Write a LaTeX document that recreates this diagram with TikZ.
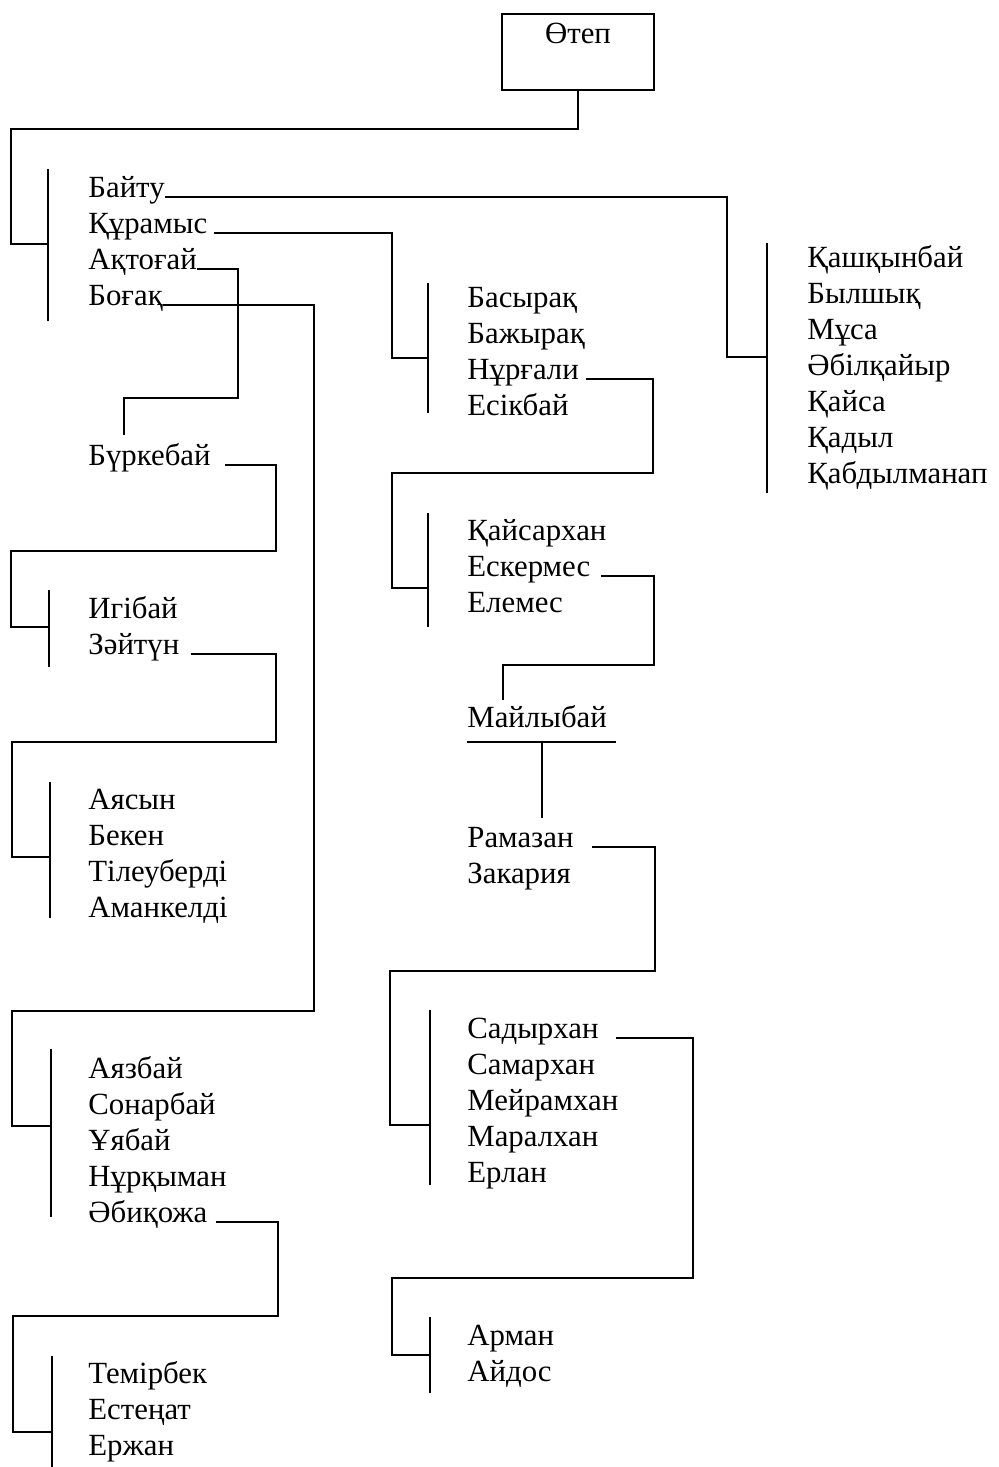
\documentclass[tikz,border=0pt]{standalone}
\usepackage{fontspec}
\setmainfont{Liberation Serif}
\newcommand\nmfont{\fontsize{15.4}{18}\selectfont}
\begin{document}
\begin{tikzpicture}[x=0.5pt,y=-0.5pt,
  nm/.style={anchor=base west, inner sep=0pt, font=\nmfont},
  ln/.style={line width=0.9pt, line join=miter},
  topbox/.style={draw, line width=0.9pt, inner sep=0pt, minimum width=76pt,
     text height=14.5pt, text depth=23.5pt, anchor=base, font=\nmfont}]
\useasboundingbox (0,0) rectangle (998,1467);

% root
\node[topbox] (otep) at (578,43) {Өтеп};

% left column
\node[nm] (bayty) at (88,197) {Байту};
\node[nm] (qur)   at (88,233) {Құрамыс};
\node[nm] (aqt)   at (88,269) {Ақтоғай};
\node[nm] (bog)   at (88,305) {Боғақ};
\node[nm] (burk)  at (88,465) {Бүркебай};
\node[nm] (igi)   at (88,618) {Игібай};
\node[nm] (zait)  at (88,654) {Зәйтүн};
\node[nm] (ayas)  at (88,809) {Аясын};
\node[nm] (bek)   at (88,845) {Бекен};
\node[nm] (til)   at (88,881) {Тілеуберді};
\node[nm] (aman)  at (88,917) {Аманкелді};
\node[nm] (ayaz)  at (88,1078) {Аязбай};
\node[nm] (son)   at (88,1114) {Сонарбай};
\node[nm] (uya)   at (88,1150) {Ұябай};
\node[nm] (nurq)  at (88,1186) {Нұрқыман};
\node[nm] (abiq)  at (88,1222) {Әбиқожа};
\node[nm] (temir) at (88,1383) {Темірбек};
\node[nm] (esten) at (88,1419) {Естеңат};
\node[nm] (erzh)  at (88,1455) {Ержан};

% middle column
\node[nm] (bas)   at (467,307) {Басырақ};
\node[nm] (bazh)  at (467,343) {Бажырақ};
\node[nm] (nurg)  at (467,379) {Нұрғали};
\node[nm] (esik)  at (467,415) {Есікбай};
\node[nm] (qays)  at (467,540) {Қайсархан};
\node[nm] (esk)   at (467,576) {Ескермес};
\node[nm] (elem)  at (467,612) {Елемес};
\node[nm] (mayl)  at (467,727) {Майлыбай};
\node[nm] (ram)   at (467,847) {Рамазан};
\node[nm] (zak)   at (467,883) {Закария};
\node[nm] (sad)   at (467,1038) {Садырхан};
\node[nm] (sam)   at (467,1074) {Самархан};
\node[nm] (meyr)  at (467,1110) {Мейрамхан};
\node[nm] (maral) at (467,1146) {Маралхан};
\node[nm] (erlan) at (467,1182) {Ерлан};
\node[nm] (arman) at (467,1345) {Арман};
\node[nm] (aydos) at (467,1381) {Айдос};

% right column
\node[nm] (qash)  at (807,267) {Қашқынбай};
\node[nm] (byl)   at (807,303) {Былшық};
\node[nm] (musa)  at (807,339) {Мұса};
\node[nm] (abil)  at (807,375) {Әбілқайыр};
\node[nm] (qaysa) at (807,411) {Қайса};
\node[nm] (qadyl) at (807,447) {Қадыл};
\node[nm] (qabd)  at (807,483) {Қабдылманап};

% bracket coordinates
\coordinate (bAt) at (48,169);   \coordinate (bAb) at (48,321);   \coordinate (bAj) at (48,244);
\coordinate (bRt) at (767,243);  \coordinate (bRb) at (767,493);  \coordinate (bRj) at (767,357);
\coordinate (bM1t) at (428,283); \coordinate (bM1b) at (428,413); \coordinate (bM1j) at (428,358);
\coordinate (bL2t) at (49,590);  \coordinate (bL2b) at (49,667);  \coordinate (bL2j) at (49,627);
\coordinate (bL3t) at (50,782);  \coordinate (bL3b) at (50,918);  \coordinate (bL3j) at (50,857);
\coordinate (bL5t) at (51,1049); \coordinate (bL5b) at (51,1217); \coordinate (bL5j) at (51,1126);
\coordinate (bL6t) at (52,1356); \coordinate (bL6b) at (52,1467); \coordinate (bL6j) at (52,1432);
\coordinate (bM2t) at (428,513); \coordinate (bM2b) at (428,627); \coordinate (bM2j) at (428,588);
\coordinate (bM3t) at (430,1010);\coordinate (bM3b) at (430,1185);\coordinate (bM3j) at (430,1125);
\coordinate (bM4t) at (430,1317);\coordinate (bM4b) at (430,1393);\coordinate (bM4j) at (430,1355);
\coordinate (burkIn) at (124,435);
\coordinate (maylIn) at (503,700);
\coordinate (ulL) at (467,742);  \coordinate (ulR) at (616,742);
\coordinate (ulM) at (542,742);  \coordinate (ramIn) at (542,818);

% brackets
\foreach \b in {A,R,M1,L2,L3,L5,L6,M2,M3,M4}
  \draw[ln] (b\b t) -- (b\b b);

% connectors
\draw[ln] (otep.south) |- (11,129) |- (bAj);
\draw[ln] (bayty.base east) -| (727,357) -- (bRj);
\draw[ln] ([xshift=3pt]qur.base east) -| (392,358) -- (bM1j);
\draw[ln] (aqt.base east) -| (238,398) -| (burkIn);
\draw[ln] (bog.base east) -| (314,1011) -| (12,1126) -- (bL5j);
\draw[ln] ([xshift=7pt]burk.base east) -| (276,551) -| (11,627) -- (bL2j);
\draw[ln] ([xshift=5.5pt]zait.base east) -| (276,742) -| (12,857) -- (bL3j);
\draw[ln] ([xshift=4pt]abiq.base east) -| (278,1316) -| (13,1432) -- (bL6j);
\draw[ln] ([xshift=3.5pt]nurg.base east) -| (653,473) -| (392,588) -- (bM2j);
\draw[ln] ([xshift=5pt]esk.base east) -| (654,665) -| (maylIn);
\draw[ln] (ulL) -- (ulR);
\draw[ln] (ulM) -- (ramIn);
\draw[ln] ([xshift=9pt]ram.base east) -| (655,971) -| (390,1125) -- (bM3j);
\draw[ln] ([xshift=8.5pt]sad.base east) -| (693,1278) -| (392,1355) -- (bM4j);
\end{tikzpicture}
\end{document}
